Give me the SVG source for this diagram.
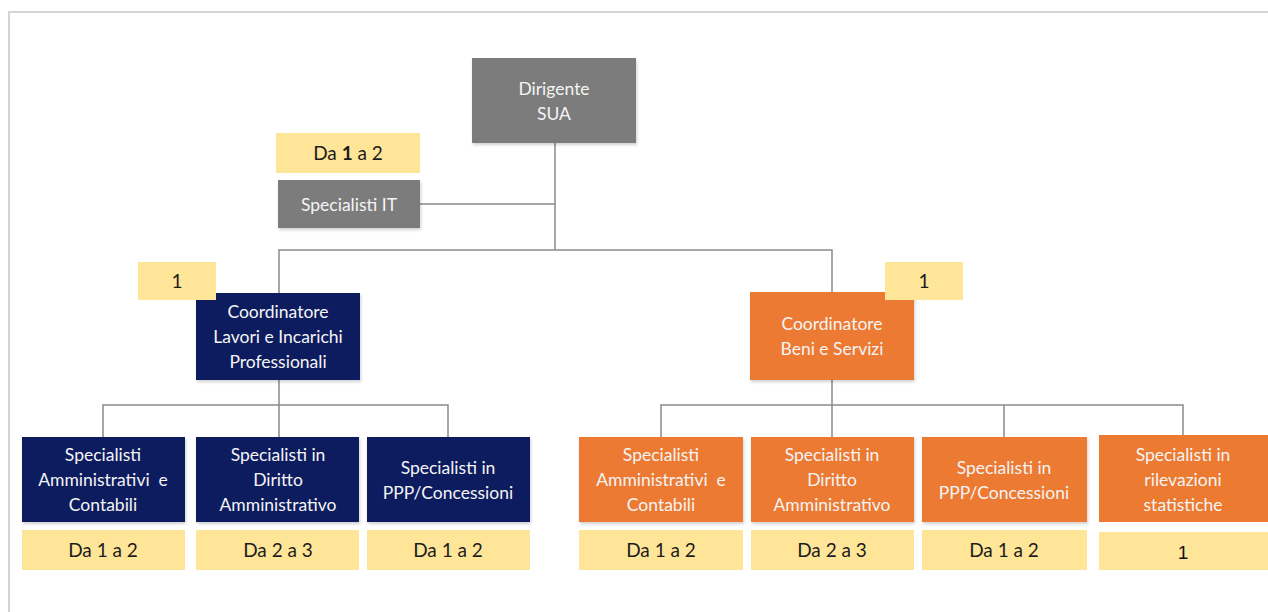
<svg xmlns="http://www.w3.org/2000/svg" width="1268" height="612" viewBox="0 0 1268 612">
  <style>
    .frame { fill: none; stroke: #d4d4d4; stroke-width: 2; }
    .gray { fill: #7b7b7b; }
    .navy { fill: #0f1f5e; }
    .orange { fill: #ec7a31; }
    .count { fill: #ffe598; }
    .box { filter: url(#shadow); }
    .lbl { font-family: Lato, "Open Sans", sans-serif; font-size: 17.5px; fill: #f4f4f4; text-anchor: middle; white-space: pre; }
    .num { font-family: Lato, "Open Sans", sans-serif; font-size: 19px; fill: #1c1c1c; text-anchor: middle; }
    .num2 { font-family: "Liberation Sans", Arial, sans-serif; font-size: 19px; fill: #111111; text-anchor: middle; }
    .conn { fill: none; stroke: #8a8a8a; stroke-width: 1.5; }
  </style>
  <defs>
    <filter id="shadow" x="-10%" y="-10%" width="120%" height="130%">
      <feDropShadow dx="1" dy="2" stdDeviation="1.5" flood-color="#000" flood-opacity="0.18"/>
    </filter>
  </defs>

  <rect width="1268" height="612" fill="#ffffff"/>
  <!-- page frame -->
  <path class="frame" d="M9 612 V12 H1268"/>

  <!-- connectors -->
  <g id="connectors">
    <path class="conn" d="M555 143 V250"/>
    <path class="conn" d="M420 204 H555"/>
    <path class="conn" d="M279 293 V250 H832 V292"/>
    <path class="conn" d="M279 380 V405"/>
    <path class="conn" d="M103 437 V405 H448 V437"/>
    <path class="conn" d="M279 405 V437"/>
    <path class="conn" d="M832 380 V437"/>
    <path class="conn" d="M661 437 V405 H1183 V435"/>
    <path class="conn" d="M1004 405 V437"/>
  </g>

  <!-- top level -->
  <g id="dirigente">
    <rect class="gray box" x="472" y="58" width="164" height="85"/>
    <text class="lbl" x="554" y="95">Dirigente</text>
    <text class="lbl" x="554" y="120">SUA</text>
  </g>

  <g id="it-count">
    <rect class="count" x="276" y="133" width="144" height="40"/>
    <text class="num" x="348" y="160">Da <tspan font-weight="bold">1</tspan> a 2</text>
  </g>
  <g id="specialisti-it">
    <rect class="gray box" x="278" y="180" width="142" height="48"/>
    <text class="lbl" x="349" y="211" font-size="19">Specialisti IT</text>
  </g>

  <!-- coordinators -->
  <g id="coord-lavori">
    <rect class="navy box" x="196" y="293" width="164" height="87"/>
    <text class="lbl" x="278" y="318">Coordinatore</text>
    <text class="lbl" x="278" y="343">Lavori e Incarichi</text>
    <text class="lbl" x="278" y="368">Professionali</text>
  </g>
  <g id="coord-lavori-count">
    <rect class="count" x="138" y="262" width="78" height="38"/>
    <text class="num" x="177" y="288">1</text>
  </g>

  <g id="coord-beni">
    <rect class="orange box" x="750" y="292" width="164" height="88"/>
    <text class="lbl" x="832" y="330">Coordinatore</text>
    <text class="lbl" x="832" y="355">Beni e Servizi</text>
  </g>
  <g id="coord-beni-count">
    <rect class="count" x="885" y="262" width="78" height="38"/>
    <text class="num" x="924" y="288">1</text>
  </g>

  <!-- lavori specialists -->
  <g id="lav-amm">
    <rect class="navy box" x="22" y="437" width="163" height="85"/>
    <text class="lbl" x="103" y="461">Specialisti</text>
    <text class="lbl" x="103" y="486">Amministrativi  e</text>
    <text class="lbl" x="103" y="511">Contabili</text>
    <rect class="count" x="22" y="530" width="163" height="40"/>
    <text class="num" x="103" y="557">Da 1 a 2</text>
  </g>
  <g id="lav-dir">
    <rect class="navy box" x="196" y="437" width="163" height="85"/>
    <text class="lbl" x="278" y="461">Specialisti in</text>
    <text class="lbl" x="278" y="486">Diritto</text>
    <text class="lbl" x="278" y="511">Amministrativo</text>
    <rect class="count" x="196" y="530" width="163" height="40"/>
    <text class="num" x="278" y="557">Da 2 a 3</text>
  </g>
  <g id="lav-ppp">
    <rect class="navy box" x="367" y="437" width="163" height="85"/>
    <text class="lbl" x="448" y="474">Specialisti in</text>
    <text class="lbl" x="448" y="499">PPP/Concessioni</text>
    <rect class="count" x="367" y="530" width="163" height="40"/>
    <text class="num" x="448" y="557">Da 1 a 2</text>
  </g>

  <!-- beni e servizi specialists -->
  <g id="ben-amm">
    <rect class="orange box" x="579" y="437" width="164" height="85"/>
    <text class="lbl" x="661" y="461">Specialisti</text>
    <text class="lbl" x="661" y="486">Amministrativi  e</text>
    <text class="lbl" x="661" y="511">Contabili</text>
    <rect class="count" x="579" y="530" width="164" height="40"/>
    <text class="num" x="661" y="557">Da 1 a 2</text>
  </g>
  <g id="ben-dir">
    <rect class="orange box" x="751" y="437" width="163" height="85"/>
    <text class="lbl" x="832" y="461">Specialisti in</text>
    <text class="lbl" x="832" y="486">Diritto</text>
    <text class="lbl" x="832" y="511">Amministrativo</text>
    <rect class="count" x="751" y="530" width="163" height="40"/>
    <text class="num" x="832" y="557">Da 2 a 3</text>
  </g>
  <g id="ben-ppp">
    <rect class="orange box" x="922" y="437" width="165" height="85"/>
    <text class="lbl" x="1004" y="474">Specialisti in</text>
    <text class="lbl" x="1004" y="499">PPP/Concessioni</text>
    <rect class="count" x="922" y="530" width="165" height="40"/>
    <text class="num" x="1004" y="557">Da 1 a 2</text>
  </g>
  <g id="ben-stat">
    <rect class="orange" x="1099" y="435" width="169" height="87"/>
    <text class="lbl" x="1183" y="461">Specialisti in</text>
    <text class="lbl" x="1183" y="486">rilevazioni</text>
    <text class="lbl" x="1183" y="511">statistiche</text>
    <rect class="count" x="1099" y="532" width="169" height="38"/>
    <text class="num2" x="1183" y="559">1</text>
  </g>
</svg>
